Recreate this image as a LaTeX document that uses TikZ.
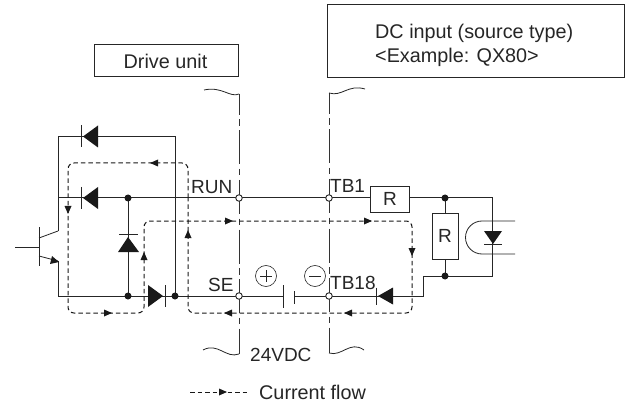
\documentclass[tikz,border=0pt]{standalone}
\usepackage{fontspec}
\setmainfont{Liberation Sans}
\tikzset{
 x=1pt,y=-1pt,
 wire/.style={line width=1pt,draw=black!85},
 thin wire/.style={line width=0.8pt,draw=black!85},
 flow/.style={line width=1pt,draw=black!90,dash pattern=on 4.5pt off 3pt,rounded corners=6pt},
 boundary/.style={line width=1pt,draw=black!80,dash pattern=on 34pt off 4.5pt on 6.5pt off 4.5pt,dash phase=13pt},
 box/.style={draw=black!85,line width=0.9pt,fill=white,inner sep=0pt},
 lbl/.style={font=\fontsize{19}{24}\selectfont,text=black!85,inner sep=0pt},
 biglbl/.style={font=\fontsize{19.8}{24}\selectfont,text=black!85,inner sep=0pt},
 term/.style={circle,draw=black!85,fill=white,line width=0.9pt,minimum size=6.5pt,inner sep=0pt},
 dotn/.style={circle,fill=black!90,minimum size=7pt,inner sep=0pt},
}
\newcommand{\diodeL}[3]{%
 \fill[black!90] (#1+2,#2) -- (#1+17,#2-#3) -- (#1+17,#2+#3) -- cycle;
 \draw[thin wire] (#1,#2-#3) -- (#1,#2+#3);}
\newcommand{\flowtipR}[2]{\fill[black!90] (#1+4,#2) -- (#1-4,#2-3.5) -- (#1-4,#2+3.5) -- cycle;}
\newcommand{\flowtipL}[2]{\fill[black!90] (#1-4,#2) -- (#1+4,#2-3.5) -- (#1+4,#2+3.5) -- cycle;}
\newcommand{\flowtipU}[2]{\fill[black!90] (#1,#2-4) -- (#1-3.5,#2+4) -- (#1+3.5,#2+4) -- cycle;}
\newcommand{\flowtipD}[2]{\fill[black!90] (#1,#2+4) -- (#1-3.5,#2-4) -- (#1+3.5,#2-4) -- cycle;}
\begin{document}
\begin{tikzpicture}
\useasboundingbox (0,0) rectangle (625,404);
\fill[white] (0,0) rectangle (625,404);
% boxes
\node[box,minimum width=144pt,minimum height=32pt,anchor=north west] (drive) at (94,44) {};
\node[biglbl] (drivet) at (165.5,61) {Drive unit};
\node[box,minimum width=297pt,minimum height=73pt,anchor=north west] (dcin) at (327,4) {};
\node[biglbl,align=left,anchor=west] (dct) at (375,45) {DC input (source type)\\\textless Example: QX80\textgreater};
% boundaries
\coordinate (bat) at (239,94);
\coordinate (bab) at (239,354);
\coordinate (bbt) at (329,93);
\coordinate (bbb) at (329,353);
\draw[boundary] (bat) -- (bab);
\draw[boundary] (bbt) -- (bbb);
\draw[thin wire] (bat) .. controls (230,98) and (222,86) .. (204,90);
\draw[thin wire] (bbt) .. controls (342,97) and (348,84) .. (365,89);
\draw[thin wire] (bab) .. controls (226,359) and (218,342) .. (203,350);
\draw[thin wire] (bbb) .. controls (342,357) and (350,340) .. (364,350);
% wires
\draw[wire] (58,231) -- (58,136.5) -- (175,136.5) -- (175,296);
\draw[wire] (58,198) -- (370,198);
\draw[wire] (58,261) -- (58,296) -- (283,296);
\draw[wire] (294,296) -- (423,296) -- (423,276) -- (492,276) -- (492,198) -- (409,198);
\draw[wire] (128,198) -- (128,296);
\draw[wire] (445,198) -- (445,276);
% resistors
\node[box,minimum width=39pt,minimum height=26pt] (r1) at (389.5,199) {};
\node[lbl] at (390,199) {R};
\node[box,minimum width=26pt,minimum height=46pt] (r2) at (445,236) {};
\node[lbl] at (445,236) {R};
% diodes
\diodeL{81}{136.5}{11}
\diodeL{81}{198}{11}
\diodeL{376}{296}{8.5}
\fill[black!90] (128,237) -- (118,252) -- (139,252) -- cycle;
\draw[thin wire] (119,234) -- (138,234);
\fill[black!90] (163,296) -- (148,285) -- (148,307) -- cycle;
\draw[thin wire] (165,285) -- (165,307);
% transistor
\draw[thin wire] (15,247) -- (39,247);
\draw[wire] (39,227) -- (39,266);
\draw[thin wire] (39,238) -- (58,231);
\draw[thin wire] (39,256) -- (58,261);
\fill[black!90] (59,262) -- (52,256) -- (50,264) -- cycle;
% battery
\draw[wire] (283,285) -- (283,308);
\draw[wire] (294,291) -- (294,304);
\node[circle,draw=black!85,line width=0.6pt,minimum size=21pt,inner sep=0pt] (plus) at (266,276) {};
\draw[line width=0.6pt,black!85] (266,270) -- (266,282) (260,276) -- (272,276);
\node[circle,draw=black!85,line width=0.6pt,minimum size=21pt,inner sep=0pt] (minus) at (315,276) {};
\draw[line width=0.6pt,black!85] (309,276) -- (321,276);
% optocoupler
\draw[thin wire] (515,221) -- (482,221) arc[start angle=270,end angle=90,radius=16.5] -- (515,254);
\fill[black!90] (493,244) -- (484,231) -- (502,231) -- cycle;
\draw[thin wire] (484,244) -- (502,244);
% flows
\draw[flow] (188,198) -- (188,163) -- (68,163) -- (68,313) -- (144,313) -- (144,221) -- (412,221) -- (412,313) -- (188,313) -- (188,198);
\flowtipL{154}{163}
\flowtipD{68}{210}
\flowtipR{108}{313}
\flowtipU{144}{256}
\flowtipR{368}{221}
\flowtipR{229}{221}
\flowtipD{412}{252}
\flowtipL{348}{313}
\flowtipL{228}{313}
\flowtipU{188}{234}
% terminals
\node[term] (trun) at (239,198) {};
\node[term] (tse) at (239,296) {};
\node[term] (ttb1) at (329,198) {};
\node[term] (ttb18) at (329,296) {};
\node[dotn] at (128,198) {};
\node[dotn] at (128,296) {};
\node[dotn] at (175,296) {};
\node[dotn] at (445,198) {};
\node[dotn] at (445,276) {};
% labels
\node[lbl,anchor=west] at (191,187) {RUN};
\node[lbl,anchor=west] at (208,285) {SE};
\node[lbl,anchor=west] at (330,186) {TB1};
\node[lbl,anchor=west] at (330,283) {TB18};
\node[lbl,anchor=west] at (250,355) {24VDC};
% legend
\coordinate (la) at (190,392);
\coordinate (lb) at (248,392);
\draw[line width=1pt,draw=black!90,dash pattern=on 4.5pt off 3pt] (la) -- (lb);
\flowtipR{223}{392}
\node[biglbl,anchor=west] at (259,392) {Current flow};
\end{tikzpicture}
\end{document}
